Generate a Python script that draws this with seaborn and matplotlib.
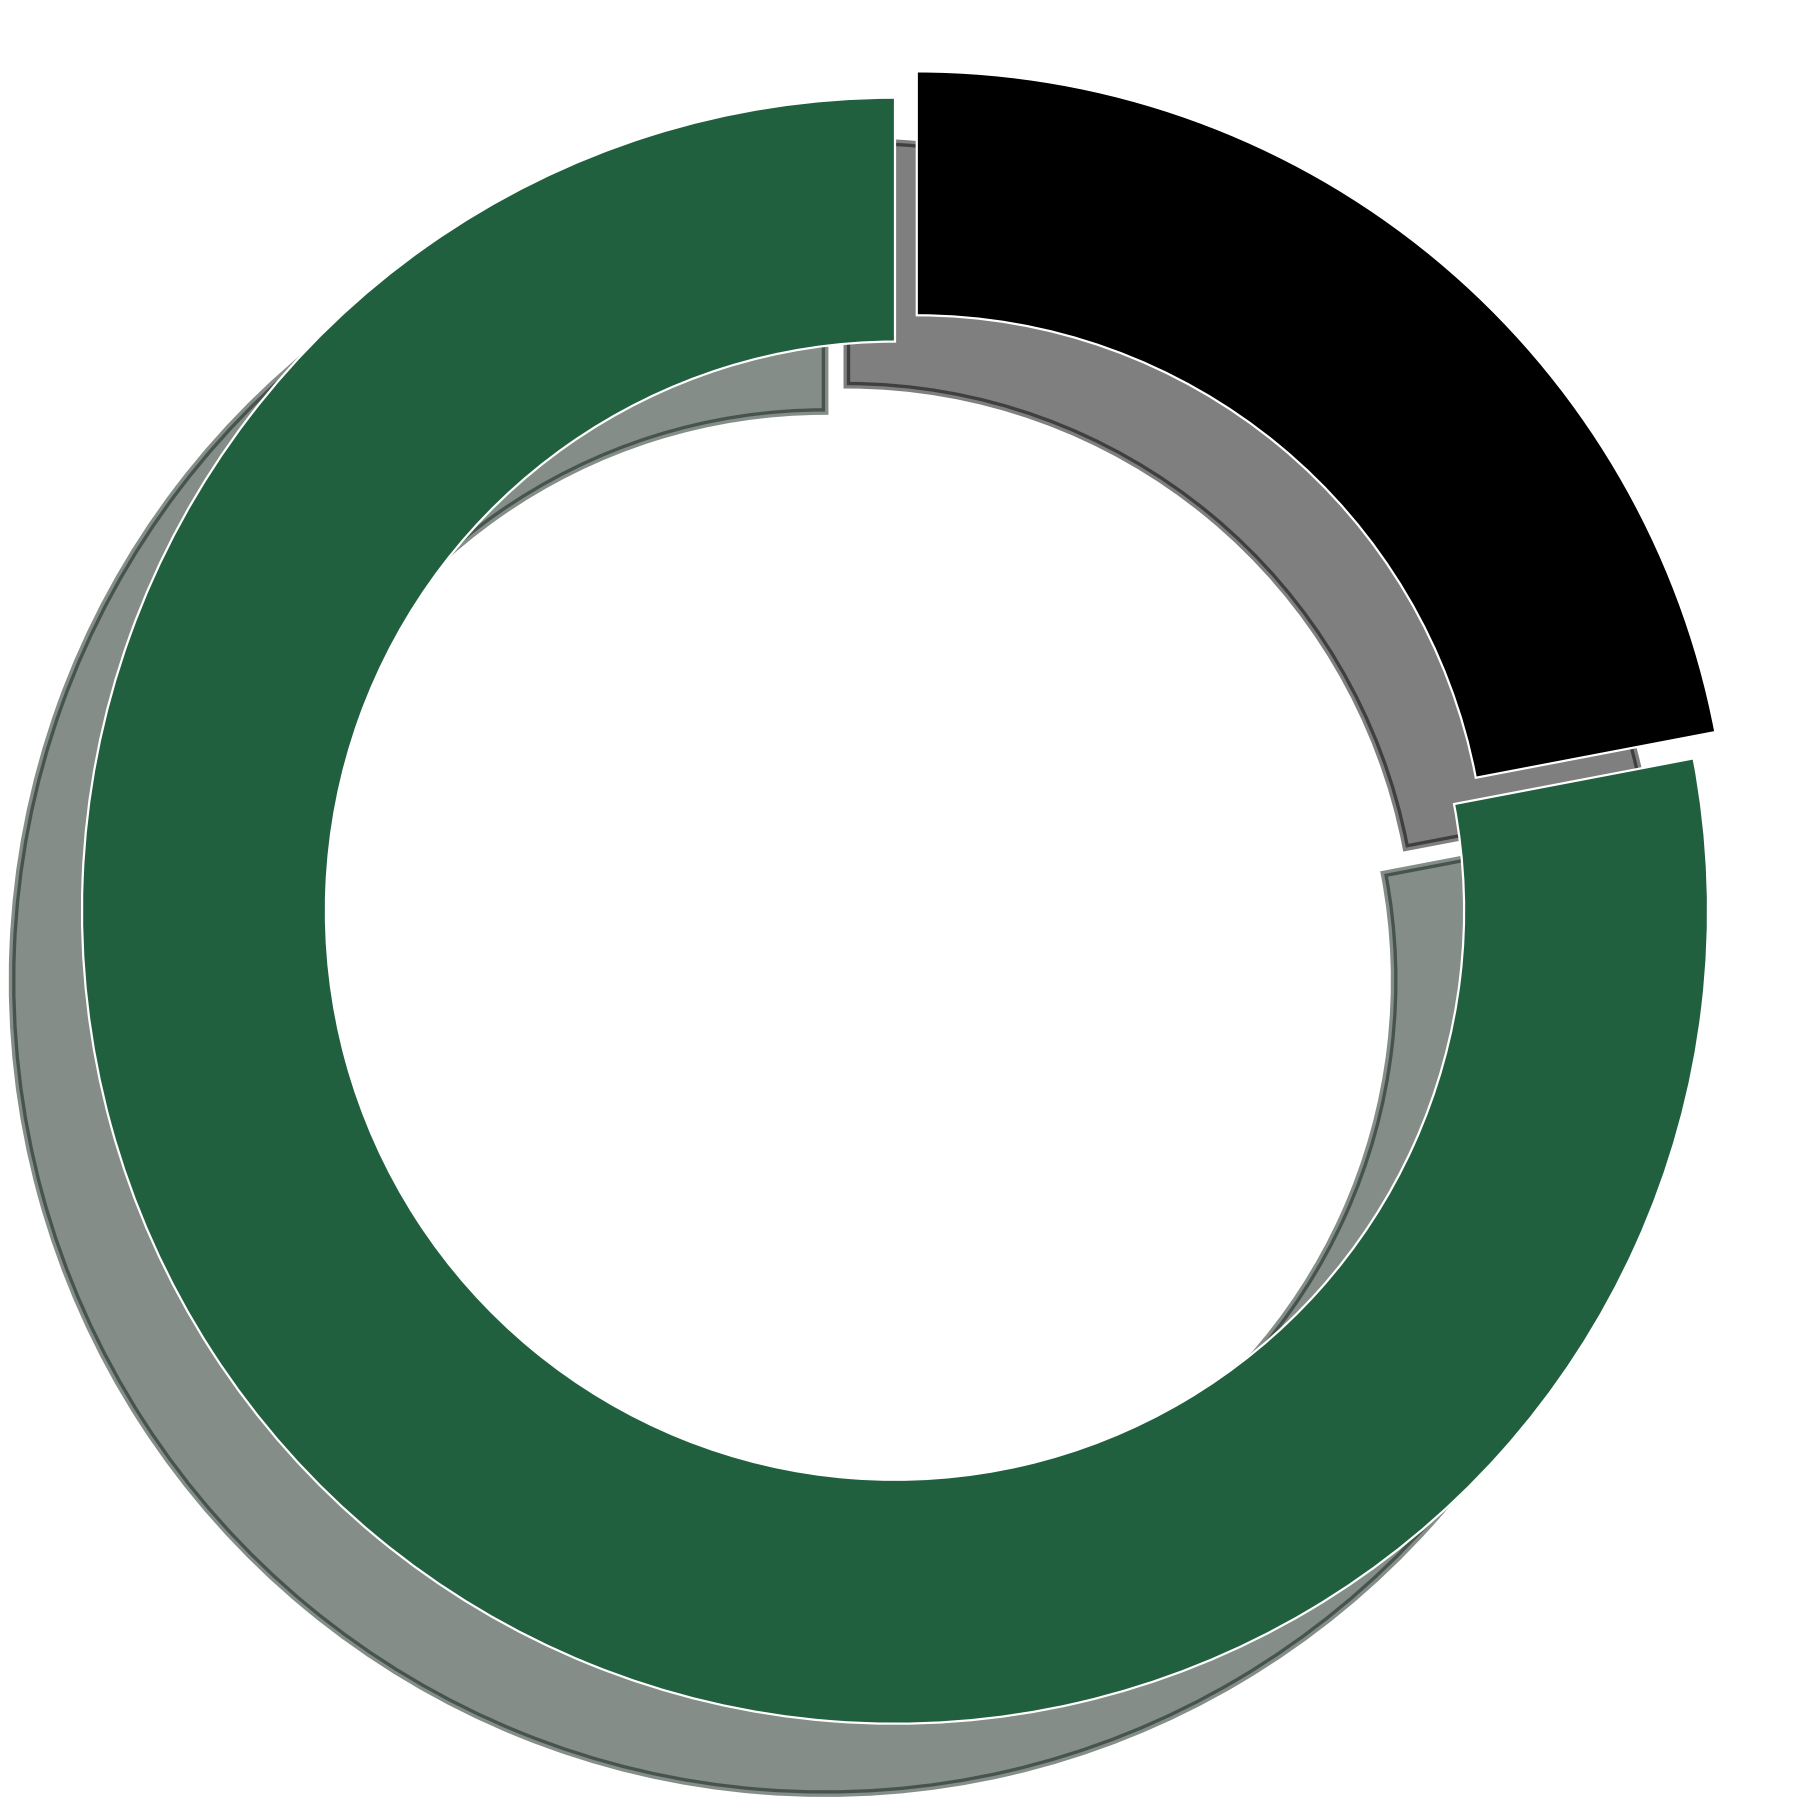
import matplotlib
matplotlib.use("Agg")
import matplotlib.pyplot as plt
import seaborn as sns

labels = ["A", "B"]
values = [22, 78]
colors = ["#000000", "#20603e"]
explode = [0.042, 0.0]

sns.set_style("white")

DPI = 200
fig = plt.figure(figsize=(9, 9), dpi=DPI)
ax = fig.add_axes([0, 0, 1, 1])

# shadow offset is scaled by dpi/72, so undo that to get ~0.086 of the radius
shift = 0.086 * 72 / DPI
ax.pie(
    values,
    colors=colors,
    explode=explode,
    startangle=90,
    counterclock=False,
    wedgeprops=dict(width=0.3, edgecolor="white", linewidth=0.8),
    shadow={"ox": -shift, "oy": -shift, "linewidth": 2.4},
)

# place the ring like the reference (centre a bit left and up)
r_px = 813.0
cx, cy = 895.0, 910.7
ax.set_xlim(-cx / r_px, (1800 - cx) / r_px)
ax.set_ylim(-(1800 - cy) / r_px, cy / r_px)
ax.axis("off")

fig.savefig("out.png", dpi=DPI)
plt.close(fig)
